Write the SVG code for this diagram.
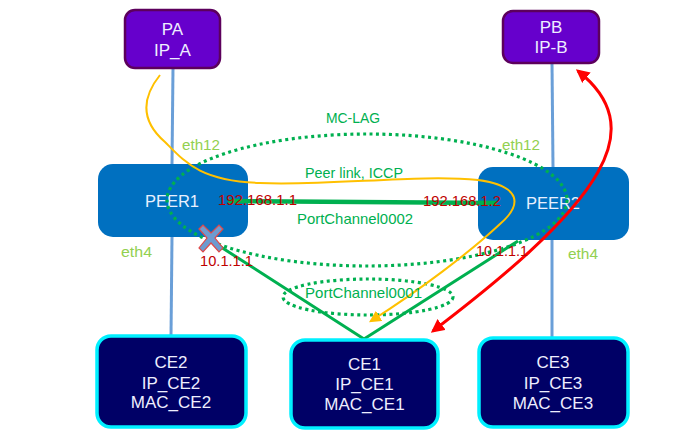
<svg xmlns="http://www.w3.org/2000/svg" width="685" height="441" viewBox="0 0 685 441">
<defs>
<style>
.pnode{fill:#6600CC;stroke:#5C005C;stroke-width:2.5}
.peer{fill:#0070C0}
.ce{fill:#000066;stroke:#00F0FF;stroke-width:3.5}
.nt{font-family:"Liberation Sans",Arial,sans-serif;font-size:17px;fill:#EEEEFF;text-anchor:middle}
.pt{font-family:"Liberation Sans",Arial,sans-serif;font-size:16.5px;fill:#E8F0FF;text-anchor:middle}
.vl{stroke:#6A9FD8;stroke-width:3;fill:none}
.gl{stroke:#00B050;stroke-width:3;fill:none}
.dot{stroke:#00B050;stroke-width:3.2;fill:none;stroke-dasharray:3 3.5}
.gt{font-family:"Liberation Sans",Arial,sans-serif;font-size:14.5px;fill:#00B050}
.et{font-family:"Liberation Sans",Arial,sans-serif;font-size:15.5px;fill:#92D050}
.rt{font-family:"Liberation Sans",Arial,sans-serif;font-size:15px;fill:#C00000}
</style>
<marker id="ay" viewBox="0 0 10 10" refX="8" refY="5" markerWidth="6" markerHeight="6" orient="auto-start-reverse" markerUnits="strokeWidth"><path d="M0,0 L10,5 L0,10 z" fill="#FFC000"/></marker>
<marker id="ar" viewBox="0 0 10 10" refX="8" refY="5" markerWidth="4.5" markerHeight="4.5" orient="auto-start-reverse" markerUnits="strokeWidth"><path d="M0,0 L10,5 L0,10 z" fill="#FF0000"/></marker>
</defs>
<rect width="685" height="441" fill="#FFFFFF"/>

<g id="connectors">
<line class="vl" x1="173" y1="68" x2="172" y2="164"/>
<line class="vl" x1="172" y1="237" x2="171" y2="336"/>
<line class="vl" x1="552" y1="63" x2="553" y2="167"/>
<line class="vl" x1="552" y1="240" x2="552" y2="338"/>
</g>

<g id="PEER1"><rect class="peer" x="98" y="164" width="150" height="73" rx="15"/><text class="pt" x="172" y="207">PEER1</text></g>
<g id="PEER2"><rect class="peer" x="478" y="167" width="151" height="73" rx="15"/><text class="pt" x="553" y="209">PEER2</text></g>

<g id="links">
<path d="M228,201 L497,203" stroke="#00B050" stroke-width="4.5" fill="none"/>
<polyline class="gl" points="210,240 364,339 518,241"/>
<ellipse class="dot" cx="367" cy="200" rx="200" ry="66"/>
<ellipse class="dot" cx="368" cy="297" rx="85" ry="18"/>
<path d="M160,75 C140,100 142,122 165,142 C185,162 200,181 260,183 C330,186 420,174 478,180 C522,186 522,205 500,224 C470,252 420,290 371,321" stroke="#FFC000" stroke-width="2" fill="none" marker-end="url(#ay)"/>
<path d="M433,331 C500,280 570,222 598,172 C622,130 612,98 578,71" stroke="#FF0000" stroke-width="3" fill="none" marker-start="url(#ar)" marker-end="url(#ar)"/>
</g>

<g id="PA"><rect class="pnode" x="125" y="10" width="95" height="58" rx="10"/><text class="nt" x="172.5" y="35">PA</text><text class="nt" x="172.5" y="56">IP_A</text></g>
<g id="PB"><rect class="pnode" x="503" y="11" width="96" height="52" rx="10"/><text class="nt" x="551" y="33">PB</text><text class="nt" x="551" y="53">IP-B</text></g>

<g id="CE2"><rect class="ce" x="97" y="336" width="149" height="91" rx="14"/><text class="nt" x="171" y="368">CE2</text><text class="nt" x="171" y="389">IP_CE2</text><text class="nt" x="171" y="408">MAC_CE2</text></g>
<g id="CE1"><rect class="ce" x="291" y="340" width="147" height="88" rx="14"/><text class="nt" x="364.5" y="370">CE1</text><text class="nt" x="364.5" y="390">IP_CE1</text><text class="nt" x="364.5" y="410">MAC_CE1</text></g>
<g id="CE3"><rect class="ce" x="479" y="338" width="149" height="89" rx="14"/><text class="nt" x="553" y="368">CE3</text><text class="nt" x="553" y="389">IP_CE3</text><text class="nt" x="553" y="409">MAC_CE3</text></g>

<g id="fail">
<path d="M199,229 L203,225 L211,233 L219,225 L223,229 L215,238 L223,248 L219,252 L211,243 L203,252 L199,248 L207,238 Z" fill="#6D9BD0" stroke="#E04848" stroke-width="1.2"/>
</g>

<g id="labels">
<text class="gt" x="326" y="123" textLength="54" lengthAdjust="spacingAndGlyphs">MC-LAG</text>
<text class="gt" x="305" y="178" textLength="98" lengthAdjust="spacingAndGlyphs">Peer link, ICCP</text>
<text class="gt" x="297" y="224" textLength="116" lengthAdjust="spacingAndGlyphs">PortChannel0002</text>
<text class="gt" x="305" y="298" textLength="117" lengthAdjust="spacingAndGlyphs">PortChannel0001</text>
<text class="et" x="182" y="150" textLength="38" lengthAdjust="spacingAndGlyphs">eth12</text>
<text class="et" x="502" y="150" textLength="38" lengthAdjust="spacingAndGlyphs">eth12</text>
<text class="et" x="121" y="257" textLength="31" lengthAdjust="spacingAndGlyphs">eth4</text>
<text class="et" x="568" y="259" textLength="30" lengthAdjust="spacingAndGlyphs">eth4</text>
<text class="rt" x="218" y="205" textLength="79" lengthAdjust="spacingAndGlyphs">192.168.1.1</text>
<text class="rt" x="423" y="206" textLength="78" lengthAdjust="spacingAndGlyphs">192.168.1.2</text>
<text class="rt" x="200" y="266" textLength="53" lengthAdjust="spacingAndGlyphs">10.1.1.1</text>
<text class="rt" x="476" y="256" textLength="52" lengthAdjust="spacingAndGlyphs">10.1.1.1</text>
</g>
</svg>
